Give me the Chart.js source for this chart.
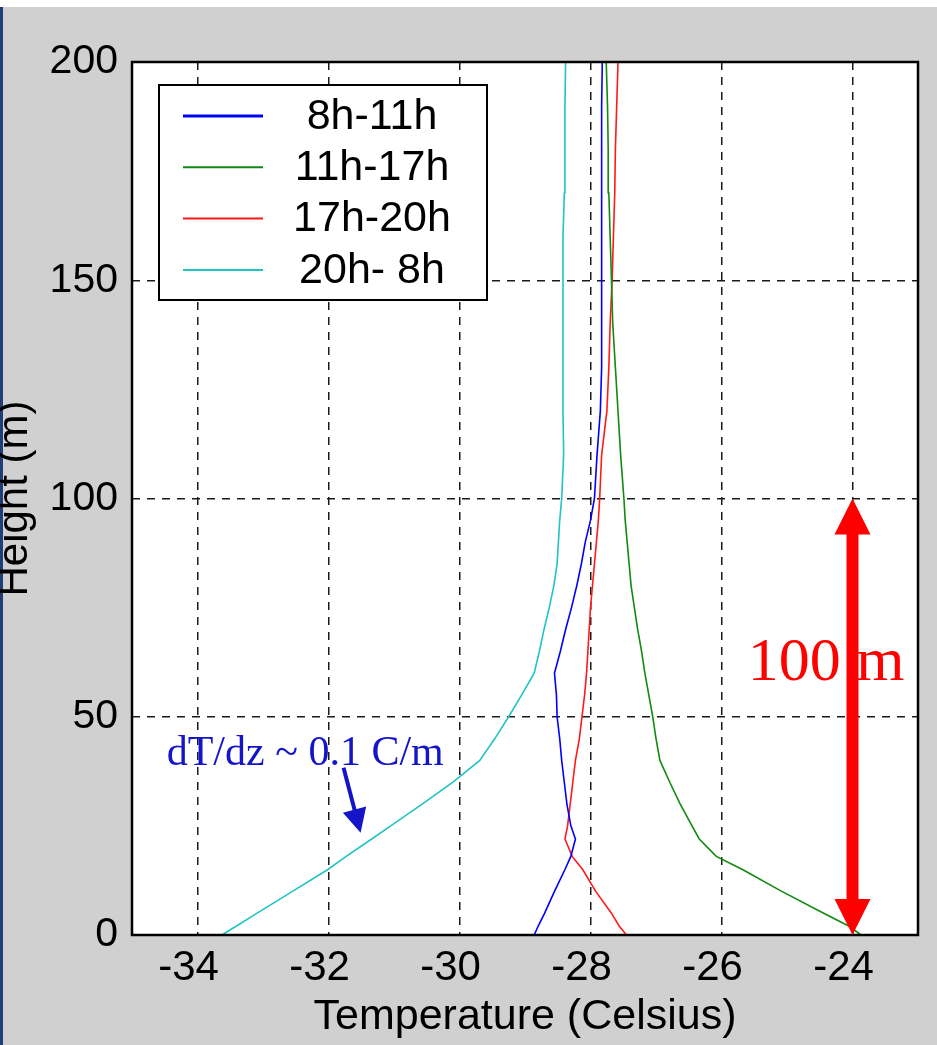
<!DOCTYPE html>
<html>
<head>
<meta charset="utf-8">
<script src="https://cdn.jsdelivr.net/npm/chart.js@4.4.0/dist/chart.umd.min.js"></script>
<style>
  body { margin: 0; background: #d0d0d0; }
  #wrap { position: relative; width: 937px; height: 1045px; }
  #topband { position: absolute; left: 0; top: 0; width: 937px; height: 7px; background: #fff; }
  #edge { position: absolute; left: 0; top: 7px; width: 3px; height: 1038px; background: #223c74; }
  canvas { position: absolute; left: 0; top: 0; }
</style>
</head>
<body>
<div id="wrap">
  <div id="topband"></div>
  <div id="edge"></div>
  <canvas id="myChart" width="937" height="1045"></canvas>
</div>
<script>
// heights (m) shared by all four profiles
const heights = [0, 2, 5, 10, 15, 18, 22, 25, 30, 35, 40, 45, 50, 55, 60, 65, 70, 75, 80, 85, 90, 95, 100,
  110, 120, 130, 140, 150, 160, 170, 180, 190, 200];

// mean temperature (Celsius) at each height
const temp8to11 = [-28.86, -28.80, -28.70, -28.55, -28.39, -28.30, -28.23, -28.30, -28.36, -28.40, -28.44,
  -28.47, -28.51, -28.52, -28.55, -28.46, -28.38, -28.29, -28.21, -28.14, -28.08, -28.00, -27.94,
  -27.90, -27.85, -27.83, -27.83, -27.83, -27.83, -27.83, -27.83, -27.83, -27.82];
const temp11to17 = [-23.87, -24.05, -24.44, -25.08, -25.68, -26.08, -26.34, -26.45, -26.63, -26.79, -26.94,
  -27.00, -27.05, -27.11, -27.17, -27.22, -27.28, -27.33, -27.38, -27.41, -27.44, -27.47, -27.49,
  -27.54, -27.58, -27.62, -27.66, -27.68, -27.70, -27.72, -27.73, -27.74, -27.76];
const temp17to20 = [-27.45, -27.56, -27.68, -27.92, -28.12, -28.28, -28.39, -28.35, -28.31, -28.27, -28.23,
  -28.17, -28.13, -28.09, -28.06, -28.04, -28.02, -28.00, -27.97, -27.94, -27.91, -27.88, -27.86,
  -27.83, -27.75, -27.72, -27.70, -27.67, -27.65, -27.63, -27.62, -27.60, -27.58];
const temp20to8 = [-33.63, -33.41, -33.09, -32.55, -32.01, -31.73, -31.34, -31.05, -30.57, -30.10, -29.69,
  -29.46, -29.25, -29.05, -28.86, -28.78, -28.71, -28.63, -28.56, -28.51, -28.49, -28.47, -28.44,
  -28.41, -28.42, -28.42, -28.42, -28.42, -28.42, -28.40, -28.39, -28.39, -28.38];

const seriesLabels = ["8h-11h", "11h-17h", "17h-20h", "20h- 8h"];
const xTicks = [-34, -32, -30, -28, -26, -24];
const yTicks = [0, 50, 100, 150, 200];

// the 100 m bracket at -24 C
const spanTemp = -24;
const spanFrom = 0;
const spanTo = 100;

const SANS = "Liberation Sans";
const SERIF = "Liberation Serif";

const profile = (temps) => heights.map((h, i) => ({ x: temps[i], y: h }));

const ctx = document.querySelector("#myChart").getContext("2d");

const data = {
  datasets: [
    { label: seriesLabels[0], data: profile(temp8to11), borderColor: "#0000ff", borderWidth: 1.6, legendWidth: 3.2 },
    { label: seriesLabels[1], data: profile(temp11to17), borderColor: "#108a10", borderWidth: 1.6, legendWidth: 2 },
    { label: seriesLabels[2], data: profile(temp17to20), borderColor: "#ff1a1a", borderWidth: 1.6, legendWidth: 2 },
    { label: seriesLabels[3], data: profile(temp20to8), borderColor: "#20c4c4", borderWidth: 1.6, legendWidth: 2 },
  ],
};

function arrowHead(c, tx, ty, ux, uy, len, half) {
  const bx = tx - ux * len;
  const by = ty - uy * len;
  c.beginPath();
  c.moveTo(tx, ty);
  c.lineTo(bx - uy * half, by + ux * half);
  c.lineTo(bx + uy * half, by - ux * half);
  c.closePath();
  c.fill();
}

const decorations = {
  id: "decorations",
  beforeDraw(chart) {
    const { chartArea: a } = chart;
    const c = chart.ctx;
    c.save();
    c.fillStyle = "#fff";
    c.fillRect(a.left, a.top, a.right - a.left, a.bottom - a.top);
    c.restore();
  },
  afterDraw(chart) {
    const { chartArea: a } = chart;
    const c = chart.ctx;
    const xs = chart.scales.x;
    const ys = chart.scales.y;
    c.save();

    // axes box
    c.strokeStyle = "#000";
    c.lineWidth = 2.5;
    c.strokeRect(a.left, a.top, a.right - a.left, a.bottom - a.top);

    // "100 m" label and double arrow
    c.fillStyle = "#ff0000";
    c.font = `62px "${SERIF}"`;
    c.textAlign = "left";
    c.textBaseline = "alphabetic";
    c.fillText("100 m", xs.getPixelForValue(-25.6), ys.getPixelForValue(58.4));
    const ax = xs.getPixelForValue(spanTemp);
    const ay0 = ys.getPixelForValue(spanFrom);
    const ay1 = ys.getPixelForValue(spanTo);
    const head = 36;
    c.fillRect(ax - 6, ay1 + head - 2, 12, ay0 - ay1 - 2 * head + 4);
    arrowHead(c, ax, ay1, 0, -1, head, 18);
    arrowHead(c, ax, ay0, 0, 1, head, 18);

    // lapse-rate note with its arrow
    c.fillStyle = "#1414c8";
    c.strokeStyle = "#1414c8";
    c.font = `42px "${SERIF}"`;
    c.fillText("dT/dz ~ 0.1 C/m", xs.getPixelForValue(-34.47), ys.getPixelForValue(38.9));
    const sx = xs.getPixelForValue(-31.77), sy = ys.getPixelForValue(38.3);
    const tx = xs.getPixelForValue(-31.51), ty = ys.getPixelForValue(23.4);
    const d = Math.hypot(tx - sx, ty - sy);
    const ux = (tx - sx) / d, uy = (ty - sy) / d;
    c.lineWidth = 4;
    c.beginPath();
    c.moveTo(sx, sy);
    c.lineTo(tx - ux * 20, ty - uy * 20);
    c.stroke();
    arrowHead(c, tx, ty, ux, uy, 24, 12);

    // legend box
    const box = { left: 159, top: 85, width: 328, height: 215 };
    c.fillStyle = "#fff";
    c.fillRect(box.left, box.top, box.width, box.height);
    c.strokeStyle = "#000";
    c.lineWidth = 2;
    c.strokeRect(box.left, box.top, box.width, box.height);
    c.font = `43px "${SANS}"`;
    c.textAlign = "center";
    c.textBaseline = "middle";
    chart.data.datasets.forEach((ds, i) => {
      const y = box.top + 31 + i * 51.3;
      c.strokeStyle = ds.borderColor;
      c.lineWidth = ds.legendWidth;
      c.beginPath();
      c.moveTo(box.left + 24, y);
      c.lineTo(box.left + 104, y);
      c.stroke();
      c.fillStyle = "#000";
      c.fillText(ds.label, box.left + 213, y + 1);
    });
    c.restore();
  },
};

const gridStyle = { color: "#1a1a1a", lineWidth: 1.5, drawTicks: false };

const config = {
  type: "scatter",
  data,
  options: {
    responsive: false,
    animation: false,
    devicePixelRatio: 1,
    showLine: true,
    elements: { point: { radius: 0 }, line: { tension: 0 } },
    layout: { padding: { top: 62, right: 19, left: 0, bottom: 0 } },
    plugins: { legend: { display: false }, tooltip: { enabled: false } },
    scales: {
      x: {
        type: "linear",
        min: -35,
        max: -23,
        afterBuildTicks: (s) => { s.ticks = xTicks.map((v) => ({ value: v })); },
        afterFit: (s) => { s.height = 110; },
        grid: gridStyle,
        border: { display: false, dash: [8, 7] },
        ticks: {
          color: "#000",
          padding: 12,
          labelOffset: -9,
          maxRotation: 0,
          font: { family: SANS, size: 42, lineHeight: 1 },
        },
        title: {
          display: true,
          text: "Temperature (Celsius)",
          color: "#000",
          font: { family: SANS, size: 43, lineHeight: 1 },
          padding: { top: 0, bottom: 6 },
        },
      },
      y: {
        type: "linear",
        min: 0,
        max: 200,
        afterBuildTicks: (s) => { s.ticks = yTicks.map((v) => ({ value: v })); },
        afterFit: (s) => { s.width = 132; },
        grid: gridStyle,
        border: { display: false, dash: [8, 7] },
        ticks: { color: "#000", padding: 14, font: { family: SANS, size: 41 } },
        title: {
          display: true,
          text: "Height (m)",
          color: "#000",
          font: { family: SANS, size: 42, lineHeight: 0.72 },
          padding: 0,
        },
      },
    },
  },
  plugins: [decorations],
};

const myChart = new Chart(ctx, config);
</script>
</body>
</html>
